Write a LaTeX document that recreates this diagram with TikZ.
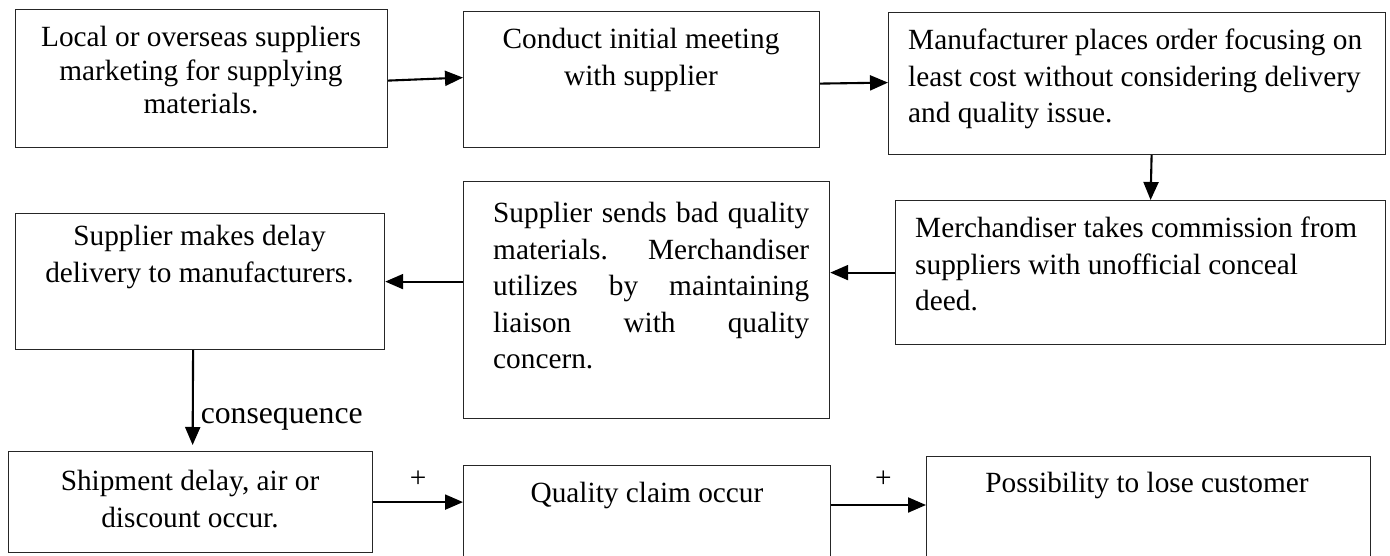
\documentclass[tikz,border=0pt]{standalone}
\usepackage{fontspec}
\setmainfont{Liberation Serif}
\usetikzlibrary{arrows.meta}
\tikzset{
  box/.style={draw=black!85, line width=1.2pt, inner sep=0pt, anchor=north west},
  txt/.style={inner sep=0pt, font=\fontsize{29.3}{36.5}\selectfont},
  tighttxt/.style={inner sep=0pt, font=\fontsize{29.3}{33.5}\selectfont},
  arr/.style={line width=2.1pt, -{Triangle[length=18pt,width=15pt]}},
  lbl/.style={inner sep=0pt, font=\fontsize{31.7}{38}\selectfont},
  plus/.style={inner sep=0pt, font=\fontsize{29.3}{36.5}\selectfont}
}
\begin{document}
\begin{tikzpicture}[x=1pt,y=-1pt]
\clip (0,0) rectangle (1390,556);
\fill[white] (0,0) rectangle (1390,556);
% boxes
\node[box, minimum width=372pt, minimum height=138pt] (b1) at (15,9) {};
\node[box, minimum width=356pt, minimum height=136pt] (b2) at (463,11) {};
\node[box, minimum width=497pt, minimum height=142pt] (b3) at (888,12) {};
\node[box, minimum width=490pt, minimum height=144pt] (b4) at (895,200) {};
\node[box, minimum width=366pt, minimum height=237pt] (b5) at (463,181) {};
\node[box, minimum width=369pt, minimum height=136pt] (b6) at (15,213) {};
\node[box, minimum width=364pt, minimum height=101pt] (b7) at (8,451) {};
\node[box, minimum width=367pt, minimum height=140pt] (b8) at (463,465) {};
\node[box, minimum width=444pt, minimum height=150pt] (b9) at (926,456) {};
% texts
\node[tighttxt, anchor=north, align=center] (t1) at (201,26) {Local or overseas suppliers\\marketing for supplying\\materials.};
\node[txt, anchor=north, align=center] (t2) at (641,28) {Conduct initial meeting\\with supplier};
\node[txt, anchor=north west, align=left] (t3) at (908,29) {Manufacturer places order focusing on\\least cost without considering delivery\\and quality issue.};
\node[txt, anchor=north west, align=left] (t4) at (915,217) {Merchandiser takes commission from\\suppliers with unofficial conceal\\deed.};
\node[txt, anchor=north west, align=left] (t5) at (493,202) {\makebox[316pt][s]{Supplier sends bad quality}\\\makebox[316pt][s]{materials. \ \ \ Merchandiser}\\\makebox[316pt][s]{utilizes by maintaining}\\\makebox[316pt][s]{liaison with quality}\\concern.};
\node[txt, anchor=north, align=center] (t6) at (199.5,225) {Supplier makes delay\\delivery to manufacturers.};
\node[txt, anchor=north, align=center] (t7) at (190,470) {Shipment delay, air or\\discount occur.};
\node[txt, anchor=north, align=center] (t8) at (647,482) {Quality claim occur};
\node[txt, anchor=north, align=center] (t9) at (1147,472) {Possibility to lose customer};
% connectors
\draw[arr] ([yshift=-2pt]b1.east) -- ([yshift=2pt]b2.west);
\draw[arr] ([yshift=-4pt]b2.east) -- ([yshift=1pt]b3.west);
\draw[arr] ([xshift=14.5pt]b3.south) -- ([xshift=10pt]b4.north);
\draw[arr] (b4.west) -- (b4.west -| b5.east);
\draw[arr] (b6.east -| b5.west) -- (b6.east);
\draw[arr, shorten >=6pt] ([xshift=-7pt]b6.south) -- ([xshift=2pt]b7.north)
  node[lbl, pos=0.73, anchor=base west, xshift=7pt] (cons) {consequence};
\draw[arr] (b7.east) -- (b7.east -| b8.west)
  node[plus, pos=0.5, above=14pt] (p1) {+};
\draw[arr] ([yshift=-40pt]b8.north east) -- ([yshift=-49pt]b9.north west)
  node[plus, pos=0.55, above=16pt] (p2) {+};
\end{tikzpicture}
\end{document}
